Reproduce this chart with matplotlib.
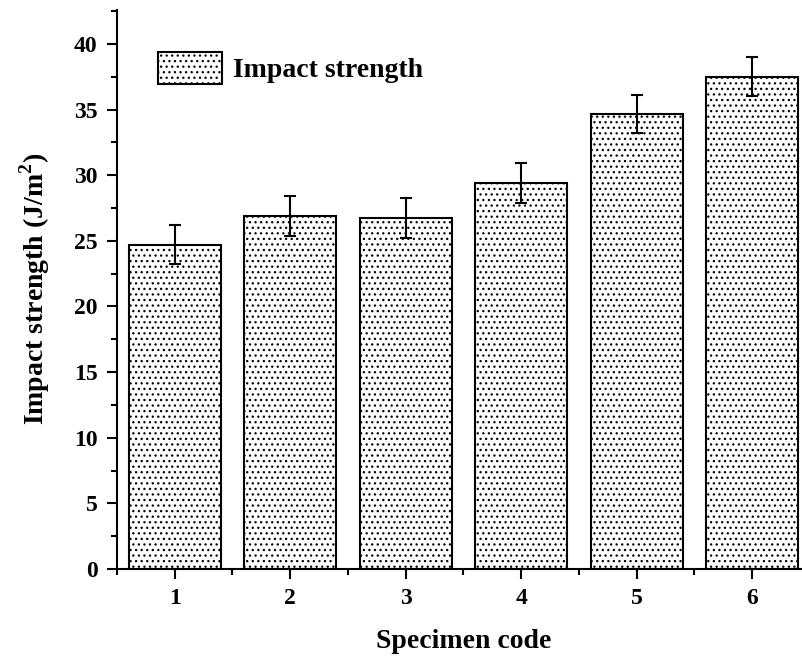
import matplotlib.pyplot as plt
import numpy as np

specimens = ['1', '2', '3', '4', '5', '6']
strength = [24.7, 26.9, 26.75, 29.4, 34.65, 37.5]
strength_err = [1.5, 1.5, 1.5, 1.5, 1.45, 1.5]


def main():
    plt.rcParams.update({
        "font.family": "Liberation Serif",
        "font.weight": "bold",
        "mathtext.fontset": "custom",
        "mathtext.rm": "Liberation Serif:bold",
        "mathtext.bf": "Liberation Serif:bold",
        "hatch.color": "#8a8a8a",
        "hatch.linewidth": 0.9,
    })

    fig = plt.figure(figsize=(8.03, 6.57), dpi=100)
    ax = fig.add_axes([0.1457, 0.134, 0.8630, 0.851])

    x = np.arange(1, len(specimens) + 1)
    ax.bar(x, strength, width=0.8, color='white', edgecolor='black',
           linewidth=1.5, hatch='...', label='Impact strength', zorder=2)
    ax.errorbar(x, strength, yerr=strength_err, fmt='none', ecolor='black',
                elinewidth=1.5, capsize=4.5, capthick=1.5, zorder=3)

    ax.set_xlim(0.5, 6.5)
    ax.set_ylim(0, 42.6)
    ax.set_xticks(x)
    ax.set_xticklabels(specimens)
    ax.set_xticks(np.arange(0.5, 7, 1), minor=True)
    ax.set_yticks(np.arange(0, 45, 5))
    ax.set_yticks(np.arange(2.5, 42.6, 5), minor=True)

    for s in ['top', 'right']:
        ax.spines[s].set_visible(False)
    ax.spines['left'].set_linewidth(1.5)
    ax.spines['bottom'].set_linewidth(1.5)
    ax.tick_params(which='major', direction='out', length=7, width=1.5,
                   labelsize=17, pad=7)
    ax.tick_params(which='minor', direction='out', length=4, width=1.5)

    ax.set_xlabel('Specimen code', fontsize=20, fontweight='bold', labelpad=14)
    ax.set_ylabel('Impact strength (J/m$^{2}$)', fontsize=20,
                  fontweight='bold', labelpad=16)

    ax.legend(loc='upper left', bbox_to_anchor=(0.023, 0.97), frameon=False,
              handlelength=2.3, handleheight=1.4, handletextpad=0.4,
              prop={'weight': 'bold', 'size': 20})

    fig.savefig('out.png', dpi=100)


if __name__ == "__main__":
    main()
